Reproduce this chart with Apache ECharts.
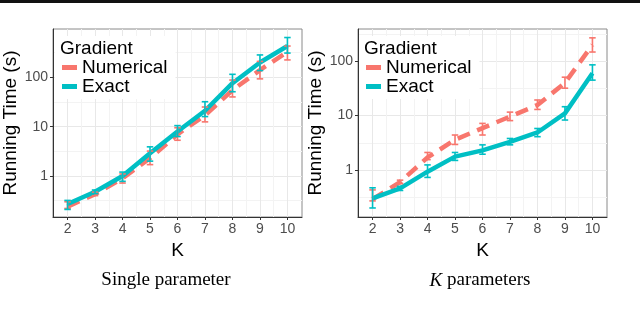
<!DOCTYPE html>
<html style="height: 100%; margin: 0; padding: 0;">
<head>
<meta charset="utf-8">
<title>Running time</title>
<script src="https://cdn.jsdelivr.net/npm/echarts@6/dist/echarts.min.js"></script>
<style>
  body, html { width: 640px; height: 324px; margin: 0; padding: 0; overflow: hidden; background: #fff; }
  #main { width: 640px; height: 324px; }
</style>
</head>
<body>
<div id="main"></div>
<script type="text/javascript">
// K values on the x axis
var kValues = [2, 3, 4, 5, 6, 7, 8, 9, 10];
var yTickValues = [1, 10, 100];

// Single parameter (left panel), seconds
var singleExact   = [0.27, 0.48, 1.0, 2.9, 8.0, 21, 76, 200, 430];
var singleExactLo = [0.21, 0.44, 0.78, 2.0, 6.3, 16, 51, 137, 310];
var singleExactHi = [0.32, 0.52, 1.2, 3.9, 10.5, 32, 115, 284, 640];
var singleNum     = [0.24, 0.43, 0.9, 2.3, 7.0, 17, 55, 140, 330];
var singleNumLo   = [0.22, 0.40, 0.72, 1.7, 5.3, 12.5, 40, 93, 225];
var singleNumHi   = [0.30, 0.47, 1.1, 3.2, 9.5, 25, 88, 210, 430];

// K parameters (right panel), seconds
var kExact   = [0.30, 0.46, 0.93, 1.76, 2.3, 3.3, 4.9, 11, 60];
var kExactLo = [0.20, 0.42, 0.73, 1.5, 1.95, 2.9, 4.1, 8.3, 45];
var kExactHi = [0.47, 0.50, 1.24, 2.1, 2.9, 3.8, 5.8, 14.6, 86];
var kNum     = [0.29, 0.60, 1.7, 3.6, 5.9, 9.6, 15.7, 40, 200];
var kNumLo   = [0.27, 0.56, 1.55, 2.95, 4.4, 8.1, 13, 32, 148];
var kNumHi   = [0.43, 0.65, 2.1, 4.4, 7.2, 11.6, 19.4, 51, 270];

var RED = '#F8766D', CYAN = '#00BFC4';
var FONT = 'Liberation Sans';
var lg = function (v) { return Math.log10(v); };

var myChart = echarts.init(document.getElementById('main'), null, { renderer: 'canvas' });

function xAxes(gi) {
  return [{
    type: 'value', gridIndex: gi, min: 1.47, max: 10.53, position: 'bottom',
    name: 'K', nameLocation: 'middle', nameGap: 19,
    nameTextStyle: { fontSize: 19, color: '#000', fontFamily: FONT },
    axisLine: { show: true, onZero: false, lineStyle: { color: '#333', width: 1 } },
    axisTick: { show: true, length: 3, lineStyle: { color: '#333' }, customValues: kValues },
    axisLabel: { fontSize: 14, color: '#4d4d4d', fontFamily: FONT, margin: 5, customValues: kValues },
    splitLine: { show: true, lineStyle: { color: '#e8e8e8', width: 1 } }
  }, {
    type: 'value', gridIndex: gi, min: 1.47, max: 10.53, position: 'bottom',
    axisLine: { show: false, onZero: false }, axisLabel: { show: false },
    axisTick: { show: false, customValues: [2.5, 3.5, 4.5, 5.5, 6.5, 7.5, 8.5, 9.5] },
    splitLine: { show: true, lineStyle: { color: '#f3f3f3', width: 1 } }
  }];
}

function yAxes(gi, lo, hi) {
  return [{
    type: 'value', gridIndex: gi, min: lo, max: hi, position: 'left',
    name: 'Running Time (s)', nameLocation: 'middle', nameGap: 33,
    nameTextStyle: { fontSize: 19, color: '#000', fontFamily: FONT },
    axisLine: { show: true, onZero: false, lineStyle: { color: '#333', width: 1 } },
    axisTick: { show: true, length: 3, lineStyle: { color: '#333' }, customValues: yTickValues.map(lg) },
    axisLabel: {
      fontSize: 14, color: '#4d4d4d', fontFamily: FONT, margin: 5,
      customValues: yTickValues.map(lg),
      formatter: function (v) { return String(Math.round(Math.pow(10, v))); }
    },
    splitLine: { show: true, lineStyle: { color: '#e8e8e8', width: 1 } }
  }, {
    type: 'value', gridIndex: gi, min: lo, max: hi, position: 'left',
    axisLine: { show: false, onZero: false }, axisLabel: { show: false },
    axisTick: { show: false, customValues: [-0.5, 0.5, 1.5, 2.5] },
    splitLine: { show: true, lineStyle: { color: '#f3f3f3', width: 1 } }
  }];
}

function pairs(vals) {
  return kValues.map(function (k, i) { return [k, lg(vals[i])]; });
}
function bars(lo, hi) {
  return kValues.map(function (k, i) { return [k, lg(lo[i]), lg(hi[i])]; });
}

function errorBar(color) {
  return function (params, api) {
    var x = api.value(0);
    var p1 = api.coord([x, api.value(1)]);
    var p2 = api.coord([x, api.value(2)]);
    var hw = api.size([0.118, 0])[0];
    var st = { stroke: color, lineWidth: 1.6 };
    return {
      type: 'group',
      children: [
        { type: 'line', shape: { x1: p1[0], y1: p1[1], x2: p2[0], y2: p2[1] }, style: st },
        { type: 'line', shape: { x1: p1[0] - hw, y1: p1[1], x2: p1[0] + hw, y2: p1[1] }, style: st },
        { type: 'line', shape: { x1: p2[0] - hw, y1: p2[1], x2: p2[0] + hw, y2: p2[1] }, style: st }
      ]
    };
  };
}

function panelSeries(gi, num, numLo, numHi, ex, exLo, exHi) {
  var xi = gi * 2, yi = gi * 2;
  return [{
    name: 'Numerical', type: 'line', xAxisIndex: xi, yAxisIndex: yi,
    data: pairs(num), showSymbol: false, z: 3,
    itemStyle: { color: RED },
    lineStyle: { color: RED, width: 4.5, type: [13, 8], cap: 'butt' }
  }, {
    name: 'numErr' + gi, type: 'custom', xAxisIndex: xi, yAxisIndex: yi,
    data: bars(numLo, numHi), renderItem: errorBar(RED), z: 5
  }, {
    name: 'Exact', type: 'line', xAxisIndex: xi, yAxisIndex: yi,
    data: pairs(ex), showSymbol: false, z: 4,
    itemStyle: { color: CYAN },
    lineStyle: { color: CYAN, width: 4.5 }
  }, {
    name: 'exErr' + gi, type: 'custom', xAxisIndex: xi, yAxisIndex: yi,
    data: bars(exLo, exHi), renderItem: errorBar(CYAN), z: 6
  }];
}

function legend(left) {
  return {
    left: left, top: 36, orient: 'vertical',
    backgroundColor: '#fff', padding: [22, 8, 3, 7],
    itemWidth: 15, itemHeight: 5, itemGap: 0,
    textStyle: { fontSize: 19, color: '#000', fontFamily: FONT, lineHeight: 19 },
    data: [{ name: 'Numerical', icon: 'rect' }, { name: 'Exact', icon: 'rect' }],
    selectedMode: false, z: 10
  };
}

var option = {
  animation: false,
  backgroundColor: '#fff',
  grid: [
    { left: 53, top: 29, width: 249, height: 188, show: true, borderColor: '#8a8a8a', borderWidth: 1 },
    { left: 358, top: 29, width: 249, height: 188, show: true, borderColor: '#8a8a8a', borderWidth: 1 }
  ],
  xAxis: xAxes(0).concat(xAxes(1)),
  yAxis: yAxes(0, -0.831, 2.979).concat(yAxes(1, -0.865, 2.594)),
  legend: [legend(55), legend(359)],
  title: [
    { text: 'Gradient', left: 60, top: 39, padding: 0, z: 11,
      textStyle: { fontSize: 19, fontWeight: 'normal', color: '#000', fontFamily: FONT } },
    { text: 'Gradient', left: 364, top: 39, padding: 0, z: 11,
      textStyle: { fontSize: 19, fontWeight: 'normal', color: '#000', fontFamily: FONT } },
    { text: 'Single parameter', left: 166, top: 271, padding: 0, textAlign: 'center',
      textStyle: { fontSize: 19, fontWeight: 'normal', color: '#000', fontFamily: 'Liberation Serif' } },
    { text: '{i|K} parameters', left: 480, top: 271, padding: 0, textAlign: 'center',
      textStyle: { fontSize: 19, fontWeight: 'normal', color: '#000', fontFamily: 'Liberation Serif',
        rich: { i: { fontSize: 19, fontStyle: 'italic', fontFamily: 'Liberation Serif', color: '#000' } } } }
  ],
  graphic: [
    { type: 'rect', left: 0, top: 0, shape: { width: 640, height: 3 }, style: { fill: '#111' } }
  ],
  series: panelSeries(0, singleNum, singleNumLo, singleNumHi, singleExact, singleExactLo, singleExactHi)
    .concat(panelSeries(1, kNum, kNumLo, kNumHi, kExact, kExactLo, kExactHi))
};

myChart.setOption(option);
</script>
</body>
</html>
